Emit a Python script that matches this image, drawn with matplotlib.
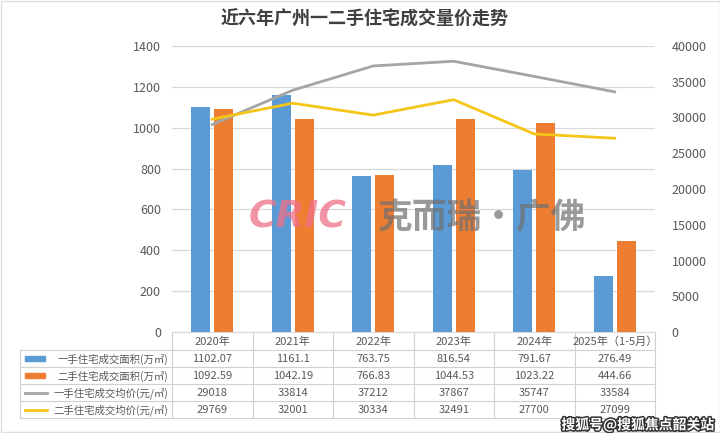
import matplotlib
matplotlib.use("Agg")
import matplotlib.pyplot as plt
import matplotlib.patheffects as pe
from matplotlib.patches import Rectangle

plt.rcParams['font.family'] = ['Noto Sans CJK SC', 'DejaVu Sans']

title = "近六年广州一二手住宅成交量价走势"
categories = ["2020年", "2021年", "2022年", "2023年", "2024年", "2025年（1-5月）"]
new_area = [1102.07, 1161.1, 763.75, 816.54, 791.67, 276.49]
second_area = [1092.59, 1042.19, 766.83, 1044.53, 1023.22, 444.66]
new_price = [29018, 33814, 37212, 37867, 35747, 33584]
second_price = [29769, 32001, 30334, 32491, 27700, 27099]
series_names = ["一手住宅成交面积(万㎡)", "二手住宅成交面积(万㎡)",
                "一手住宅成交均价(元/㎡)", "二手住宅成交均价(元/㎡)"]
left_ticks = [0, 200, 400, 600, 800, 1000, 1200, 1400]
right_ticks = [0, 5000, 10000, 15000, 20000, 25000, 30000, 35000, 40000]

C_BLUE = "#5B9BD5"
C_ORANGE = "#ED7D31"
C_GRAY = "#A5A5A5"
C_YELLOW = "#F5C518"
TXT = "#595959"
GRID = "#D9D9D9"

W, H = 720, 433
fig = plt.figure(figsize=(W / 100, H / 100), dpi=100)
fig.patch.set_facecolor("white")

def fx(px):
    return px / W

def fy(py):
    return 1 - py / H

# main axes: x 172..655 px, y 46..332 px
L, R, T, B = 172, 655, 46, 332
ax = fig.add_axes([fx(L), fy(B), fx(R - L), fy(T) - fy(B)])
n = len(categories)
xs = list(range(n))
bw = 0.236
off = 0.143
ax.bar([x - off for x in xs], new_area, width=bw, color=C_BLUE, zorder=3)
ax.bar([x + off for x in xs], second_area, width=bw, color=C_ORANGE, zorder=3)
ax.set_xlim(-0.5, n - 0.5)
ax.set_ylim(0, 1400)
ax.set_yticks(left_ticks)
ax.yaxis.grid(True, color=GRID, linewidth=0.9, zorder=0)
ax.set_xticks([])
for s in ["top", "right", "left"]:
    ax.spines[s].set_visible(False)
ax.spines["bottom"].set_color(GRID)
ax.tick_params(axis="y", length=0, labelsize=9, labelcolor=TXT, pad=8)
ax.set_facecolor("none")

ax2 = ax.twinx()
ax2.plot(xs, new_price, color=C_GRAY, linewidth=2.0, zorder=4)
ax2.plot(xs, second_price, color=C_YELLOW, linewidth=2.0, zorder=4)
ax2.set_ylim(0, 40000)
ax2.set_yticks(right_ticks)
for s in ["top", "right", "left", "bottom"]:
    ax2.spines[s].set_visible(False)
ax2.tick_params(axis="y", length=0, labelsize=9, labelcolor=TXT, pad=12)

# title
fig.text(fx(365), fy(19), title, ha="center", va="center", fontsize=13,
         fontweight="bold", color="#404040")

# table drawn in pixel coordinates via an overlay axes
ov = fig.add_axes([0, 0, 1, 1])
ov.set_xlim(0, W)
ov.set_ylim(H, 0)
ov.axis("off")
ov.patch.set_alpha(0)

colw = (R - L) / n
row_edges = [333, 350, 367, 384, 401, 418]
TL = 20
lc = "#D0D0D0"
for k in range(n + 1):
    x = L + colw * k
    ov.plot([x, x], [row_edges[0], row_edges[-1]], color=lc, lw=0.8)
ov.plot([TL, TL], [row_edges[1], row_edges[-1]], color=lc, lw=0.8)
for y in row_edges[1:]:
    ov.plot([TL, R], [y, y], color=lc, lw=0.8)

for k, c in enumerate(categories):
    ov.text(L + colw * (k + 0.5), (row_edges[0] + row_edges[1]) / 2 + 0.5, c,
            ha="center", va="center", fontsize=8, color=TXT)

rows = [new_area, second_area, new_price, second_price]
for r, (vals, name) in enumerate(zip(rows, series_names)):
    yc = (row_edges[r + 1] + row_edges[r + 2]) / 2
    for k, v in enumerate(vals):
        ov.text(L + colw * (k + 0.5), yc + 0.5, str(v), ha="center", va="center",
                fontsize=8, color=TXT)
    ov.text(168, yc + 0.5, name, ha="right", va="center", fontsize=7.5, color=TXT)
    if r == 0:
        ov.add_patch(Rectangle((25, yc - 2.5), 20, 5, color=C_BLUE))
    elif r == 1:
        ov.add_patch(Rectangle((25, yc - 2.5), 20, 5, color=C_ORANGE))
    elif r == 2:
        ov.plot([25, 47], [yc, yc], color=C_GRAY, lw=2)
    else:
        ov.plot([25, 47], [yc, yc], color=C_YELLOW, lw=2)

# watermarks
ov.text(298, 218, "CRIC", ha="center", va="center", fontsize=27,
        family="DejaVu Sans", fontweight="bold", style="italic",
        color="#F07088", alpha=0.75)
ov.text(377, 218, "克而瑞·广佛", ha="left", va="center", fontsize=25,
        color="#707070", alpha=0.7, fontweight="bold")
ov.text(714, 425, "搜狐号@搜狐焦点韶关站", ha="right", va="center", fontsize=10,
        color="white", fontweight="bold",
        path_effects=[pe.withStroke(linewidth=2.2, foreground="#333333")])

ov.add_patch(Rectangle((0.5, 0.5), W - 1, H - 2, fill=False, edgecolor="#DDDDDD", lw=1))

fig.savefig("out.png", dpi=100, facecolor="white")
